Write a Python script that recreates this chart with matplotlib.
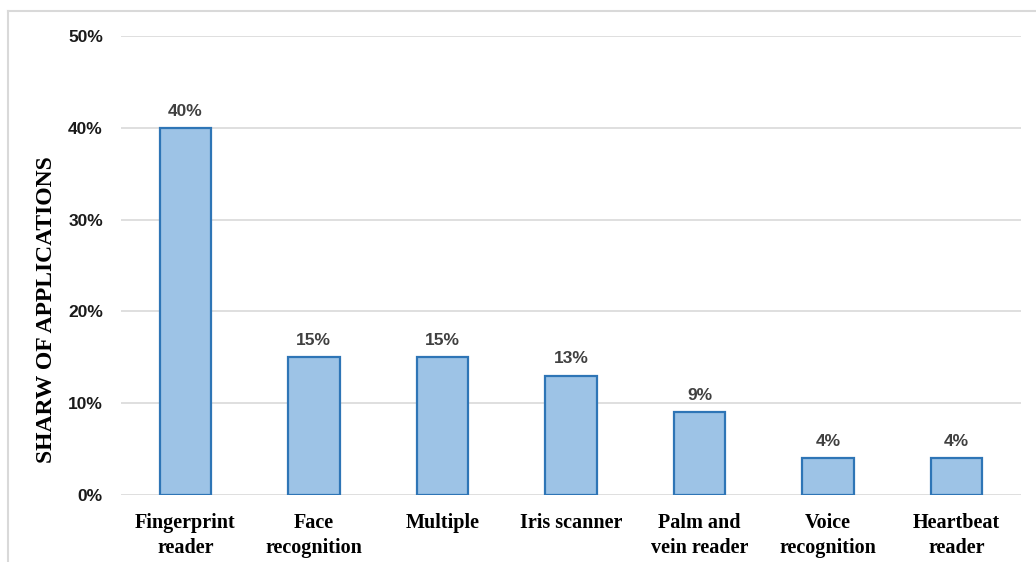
import matplotlib.pyplot as plt
from matplotlib.lines import Line2D
from matplotlib.ticker import FuncFormatter

categories = ["Fingerprint\nreader", "Face\nrecognition", "Multiple", "Iris scanner",
              "Palm and\nvein reader", "Voice\nrecognition", "Heartbeat\nreader"]
shares = [40, 15, 15, 13, 9, 4, 4]
yticks = [0, 10, 20, 30, 40, 50]

fig = plt.figure(figsize=(10.36, 5.62), dpi=100)
ax = fig.add_axes([0.1168, 0.1192, 0.8687, 0.8167])

x = range(len(categories))
ax.bar(x, shares, width=0.4, color="#9dc3e6", edgecolor="#2e75b6", linewidth=1.6, zorder=3)

for xi, v in zip(x, shares):
    ax.text(xi, v + 1.0, f"{v}%", ha="center", va="bottom", fontsize=12.5,
            fontweight="bold", color="#404040", family="Liberation Sans")

ax.set_xlim(-0.5, len(categories) - 0.5)
ax.set_ylim(0, 50)
ax.set_yticks(yticks)
ax.yaxis.set_major_formatter(FuncFormatter(lambda v, _: f"{v:.0f}%"))
ax.grid(axis="y", color="#d9d9d9", linewidth=1.2, zorder=0)
for s in ax.spines.values():
    s.set_visible(False)
ax.tick_params(axis="both", length=0)
ax.tick_params(axis="y", pad=13)
ax.tick_params(axis="x", pad=13)

for lab in ax.get_yticklabels():
    lab.set_fontsize(12.5)
    lab.set_fontweight("bold")
    lab.set_family("Liberation Sans")
    lab.set_color("#1a1a1a")

ax.set_xticks(list(x))
ax.set_xticklabels(categories, fontsize=14.5, fontweight="bold", family="Liberation Serif",
                   linespacing=1.3)

ax.set_ylabel("SHARW OF APPLICATIONS", fontsize=17, fontweight="bold",
              family="Liberation Serif")
ax.yaxis.set_label_coords(-0.071, 0.403)

# chart area outline (top and left edges)
fig.add_artist(Line2D([8 / 1036, 8 / 1036], [0, 1 - 11 / 562], transform=fig.transFigure,
                      color="#d9d9d9", linewidth=1.5))
fig.add_artist(Line2D([8 / 1036, 1], [1 - 11 / 562, 1 - 11 / 562], transform=fig.transFigure,
                      color="#d9d9d9", linewidth=1.5))

fig.savefig("out.png", dpi=100)
